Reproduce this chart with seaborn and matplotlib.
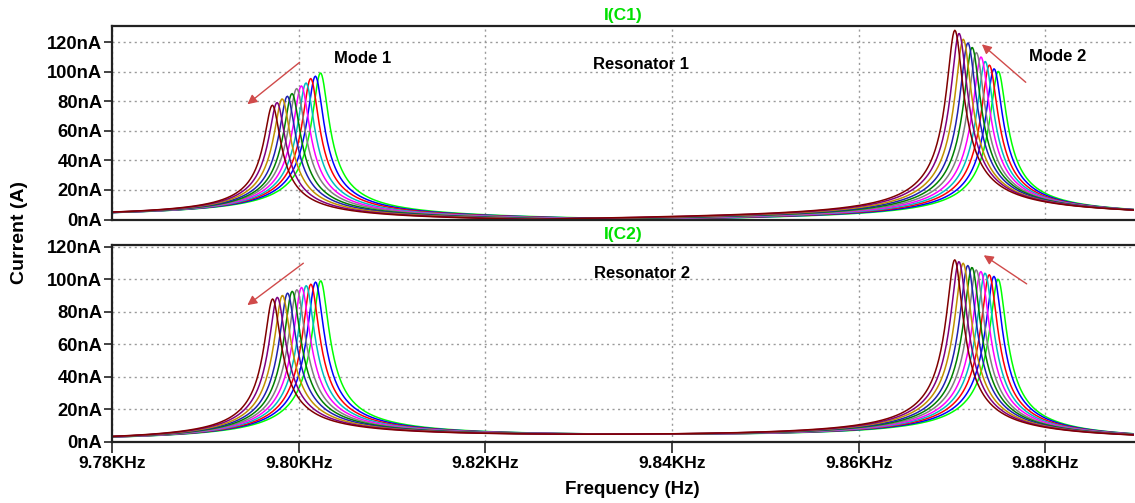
import numpy as np
import pandas as pd
import matplotlib
matplotlib.use("Agg")
import matplotlib.pyplot as plt
import seaborn as sns

# ---------------- data ----------------
trace_colors = ["#00ff00", "#0000ff", "#ff0000", "#00bfbf", "#ff00ff", "#808080",
                "#008000", "#2020b0", "#c09000", "#800080", "#800000"]
trace_names = ["step%d" % i for i in range(1, 12)]

# Mode peak frequencies (Hz), same for both resonators, green -> maroon
mode1_freq = [9802.35, 9801.80, 9801.30, 9800.80, 9800.30, 9799.80,
              9799.30, 9798.80, 9798.25, 9797.70, 9797.20]
mode2_freq = [9874.95, 9874.50, 9874.00, 9873.55, 9873.10, 9872.60,
              9872.15, 9871.70, 9871.20, 9870.75, 9870.30]

# Peak currents (nA)
res1_mode1_amp = [99.2, 97.0, 95.4, 92.4, 90.4, 88.6, 85.2, 83.4, 81.6, 79.1, 77.3]
res1_mode2_amp = [100.3, 102.0, 104.5, 107.0, 110.0, 113.0, 116.5, 119.5, 122.0, 126.0, 128.1]
res2_mode1_amp = [99.0, 98.2, 96.9, 96.0, 94.9, 93.5, 92.5, 91.4, 90.0, 88.8, 87.8]
res2_mode2_amp = [100.0, 101.7, 102.7, 103.7, 104.7, 105.7, 107.2, 108.4, 109.8, 110.8, 111.9]

half_width_hz = 0.85          # resonance half-width
res1_mode_sign = 1.0          # modes add outside, cancel between (resonator 1)
res2_mode_sign = -1.0         # modes cancel outside, add between (resonator 2)

freq_start, freq_stop, freq_step = 9780.0, 9889.5, 0.1

y_ticks = [0, 20, 40, 60, 80, 100, 120]
y_tick_labels = ["0nA", "20nA", "40nA", "60nA", "80nA", "100nA", "120nA"]
x_ticks = [9780, 9800, 9820, 9840, 9860, 9880]
x_tick_labels = ["9.78KHz", "9.80KHz", "9.82KHz", "9.84KHz", "9.86KHz", "9.88KHz"]

freq = np.arange(freq_start, freq_stop + freq_step / 2, freq_step)


def sweep(f1, a1, f2, a2, sign):
    rows = []
    for name, ff1, aa1, ff2, aa2 in zip(trace_names, f1, a1, f2, a2):
        z = aa1 / (1 + 1j * (freq - ff1) / half_width_hz) + \
            sign * aa2 / (1 + 1j * (freq - ff2) / half_width_hz)
        rows.append(pd.DataFrame({"freq": freq, "current": np.abs(z), "trace": name}))
    return pd.concat(rows, ignore_index=True)


df1 = sweep(mode1_freq, res1_mode1_amp, mode2_freq, res1_mode2_amp, res1_mode_sign)
df2 = sweep(mode1_freq, res2_mode1_amp, mode2_freq, res2_mode2_amp, res2_mode_sign)

# ---------------- style ----------------
sns.set_style("white")
plt.rcParams["font.family"] = ["Liberation Sans", "DejaVu Sans"]
plt.rcParams["font.weight"] = "bold"
plt.rcParams["axes.titleweight"] = "bold"
plt.rcParams["axes.labelweight"] = "bold"
plt.rcParams["text.color"] = "black"
plt.rcParams["xtick.color"] = "black"
plt.rcParams["ytick.color"] = "black"

W, H = 1135, 503
fig = plt.figure(figsize=(W / 100, H / 100), dpi=100)
ax1 = fig.add_axes([112 / W, 1 - 219.5 / H, 1022 / W, 193.5 / H])
ax2 = fig.add_axes([112 / W, 1 - 441.7 / H, 1022 / W, 196.7 / H])

palette = dict(zip(trace_names, trace_colors))
for ax, df, ylim, title in [(ax1, df1, 131, "I(C1)"), (ax2, df2, 121, "I(C2)")]:
    sns.lineplot(data=df, x="freq", y="current", hue="trace", hue_order=trace_names,
                 palette=palette, ax=ax, legend=False, linewidth=1.1,
                 estimator=None, sort=False)
    ax.set_xlim(freq_start, freq_stop)
    ax.set_ylim(0, ylim)
    ax.set_xlabel("")
    ax.set_ylabel("")
    ax.set_xticks(x_ticks)
    ax.set_yticks(y_ticks)
    ax.set_yticklabels(y_tick_labels)
    ax.grid(True, linestyle=(0, (1.5, 2.5)), color="#9a9a9a", linewidth=1.0)
    ax.set_axisbelow(True)
    for side in ["left", "bottom", "top"]:
        ax.spines[side].set_color("#222222")
        ax.spines[side].set_linewidth(1.6)
    ax.spines["right"].set_visible(False)
    ax.tick_params(axis="y", direction="out", length=6, width=1.2, color="#222222",
                   labelsize=13.2, pad=1, left=True)
    ax.set_title(title, color="#00e000", fontsize=12.5, pad=4)

ax1.tick_params(axis="x", length=0, labelbottom=False)
ax2.set_xticklabels(x_tick_labels)
ax2.tick_params(axis="x", direction="out", length=8, width=1.2, color="#222222",
                labelsize=12.5, pad=2, bottom=True)

arrow_kw = dict(arrowstyle="-|>", color="#d04a4a", lw=1.0, mutation_scale=14,
                shrinkA=0, shrinkB=0)

# top panel annotations
ax1.annotate("", xy=(9794.5, 78.0), xytext=(9800.1, 106.4), arrowprops=arrow_kw)
ax1.annotate("", xy=(9873.2, 118.6), xytext=(9877.9, 92.9), arrowprops=arrow_kw)
ax1.text(9806.8, 109.1, "Mode 1", fontsize=12, ha="center", va="center")
ax1.text(9881.3, 110.1, "Mode 2", fontsize=12, ha="center", va="center")
ax1.text(9836.7, 105.1, "Resonator 1", fontsize=12, ha="center", va="center")

# bottom panel annotations
ax2.annotate("", xy=(9794.5, 84.0), xytext=(9800.5, 109.8), arrowprops=arrow_kw)
ax2.annotate("", xy=(9873.4, 114.7), xytext=(9878.0, 97.1), arrowprops=arrow_kw)
ax2.text(9836.8, 103.7, "Resonator 2", fontsize=12, ha="center", va="center")

fig.text(20 / W, 1 - 233 / H, "Current (A)", rotation=90, ha="center", va="center",
         fontsize=14)
fig.text(632 / W, 1 - 490 / H, "Frequency (Hz)", ha="center", va="center", fontsize=13.5)

fig.savefig("out.png", dpi=100)
